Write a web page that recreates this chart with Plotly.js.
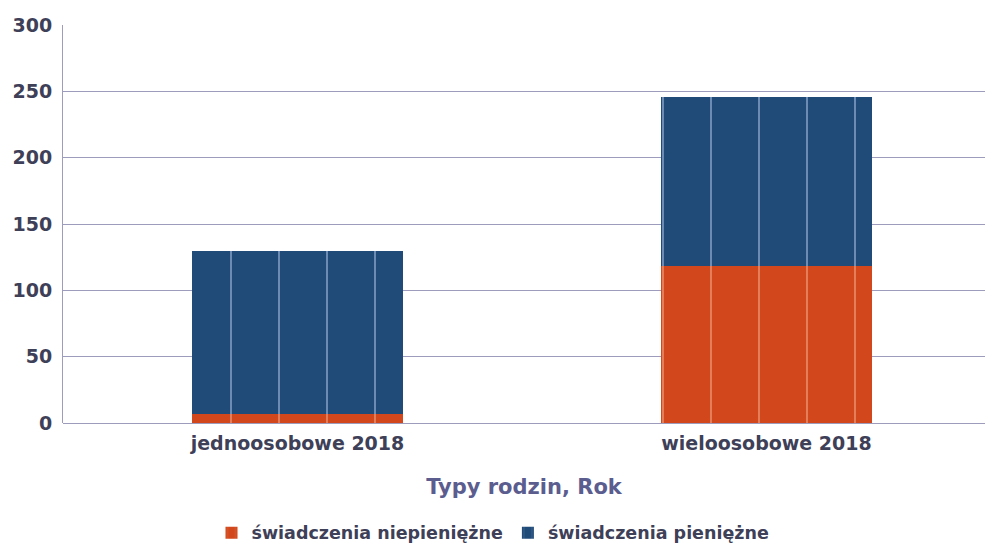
<!DOCTYPE html>
<html>
<head>
<meta charset="utf-8">
<script src="https://cdn.plot.ly/plotly-3.0.1.min.js"></script>
<style>
  html, body { margin: 0; padding: 0; background: #fff; }
  #chart { width: 986px; height: 547px; }
</style>
</head>
<body>
<div id="chart"></div>
<script>
// family types (x categories)
const categories = ['jednoosobowe 2018', 'wieloosobowe 2018'];
// stacked series, bottom to top
const nonCash = [7, 118];
const cash = [123, 128];
const yTicks = [0, 50, 100, 150, 200, 250, 300];

const textColor = '#3e4058';
const gridColor = '#9d9cbc';
const family = 'DejaVu Sans, Verdana, sans-serif';

const data = [{
  type: 'bar',
  name: 'świadczenia niepieniężne',
  x: categories,
  y: nonCash,
  width: 0.45,
  marker: {
    color: '#d2481c',
    line: { width: 0 },
    pattern: { shape: '|', bgcolor: '#d2481c', fgcolor: '#f2b090', fgopacity: 0.55, size: 48, solidity: 0.04 }
  }
}, {
  type: 'bar',
  name: 'świadczenia pieniężne',
  x: categories,
  y: cash,
  width: 0.45,
  marker: {
    color: '#204a78',
    line: { width: 0 },
    pattern: { shape: '|', bgcolor: '#204a78', fgcolor: '#b0c8e8', fgopacity: 0.55, size: 48, solidity: 0.04 }
  }
}];

const layout = {
  width: 986,
  height: 547,
  barmode: 'stack',
  paper_bgcolor: '#fff',
  plot_bgcolor: '#fff',
  margin: { l: 63, r: 1, t: 25, b: 124 },
  font: { family: family, weight: 'bold', color: textColor },
  showlegend: true,
  legend: {
    orientation: 'h',
    xref: 'container', x: 0.5, xanchor: 'center',
    yref: 'container', y: 0.026, yanchor: 'middle',
    font: { family: family, weight: 'bold', size: 17.5, color: textColor },
    traceorder: 'normal'
  },
  xaxis: {
    range: [-0.5, 1.466],
    showgrid: false,
    zeroline: false,
    showline: false,
    ticks: '',
    ticklabelstandoff: 7,
    tickfont: { family: family, weight: 'bold', size: 19, color: textColor },
    title: {
      text: 'Typy rodzin, Rok',
      font: { family: family, weight: 'bold', size: 21, color: '#5b5d8f' },
      standoff: 26
    }
  },
  yaxis: {
    range: [0, 300],
    tickvals: yTicks,
    showgrid: true,
    gridcolor: gridColor,
    gridwidth: 1,
    zeroline: true,
    zerolinecolor: gridColor,
    zerolinewidth: 1,
    showline: true,
    linecolor: gridColor,
    linewidth: 1,
    ticks: '',
    ticklabelstandoff: 6,
    tickfont: { family: family, weight: 'bold', size: 19, color: textColor }
  }
};

Plotly.newPlot('chart', data, layout, { displayModeBar: false, staticPlot: true });
</script>
</body>
</html>
